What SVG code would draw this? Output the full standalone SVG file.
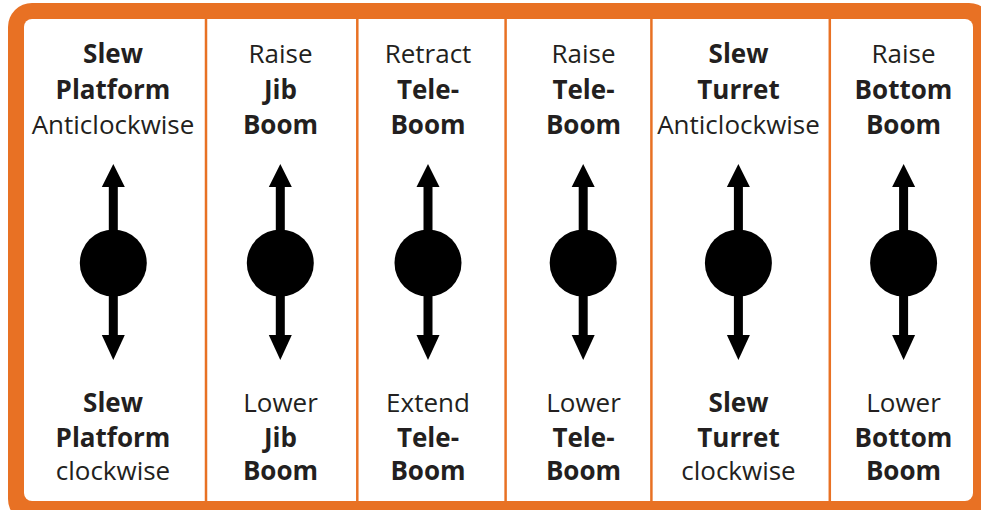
<svg xmlns="http://www.w3.org/2000/svg" width="981" height="510" viewBox="0 0 981 510">
<defs>
<style>
.t{font-family:"Open Sans","Noto Sans","Liberation Sans",sans-serif;font-size:26px;fill:#231f20;text-anchor:middle}
.b{font-weight:bold}
.div{stroke:#e87124;stroke-width:2.5}
</style>
<g id="arrow">
<rect x="-4.5" y="185" width="9" height="152" fill="#000"/>
<polygon points="0,164 -11.5,187 11.5,187" fill="#000"/>
<polygon points="0,360 -11.5,335 11.5,335" fill="#000"/>
<circle cx="0" cy="263" r="33.5" fill="#000"/>
</g>
</defs>
<rect width="981" height="510" fill="#fff"/>
<rect x="8" y="3" width="985" height="520" rx="24" fill="#e87124"/>
<rect x="24" y="19" width="949" height="482" rx="8" fill="#fff"/>
<g id="dividers">
<line class="div" x1="206" y1="19" x2="206" y2="501"/>
<line class="div" x1="357.3" y1="19" x2="357.3" y2="501"/>
<line class="div" x1="505.6" y1="19" x2="505.6" y2="501"/>
<line class="div" x1="651.4" y1="19" x2="651.4" y2="501"/>
<line class="div" x1="829.8" y1="19" x2="829.8" y2="501"/>
</g>
<g id="col1">
<text class="t b" x="113" y="63">Slew</text>
<text class="t b" x="113" y="99">Platform</text>
<text class="t" x="113" y="134">Anticlockwise</text>
<use href="#arrow" x="113.3"/>
<text class="t b" x="113" y="412">Slew</text>
<text class="t b" x="113" y="447">Platform</text>
<text class="t" x="113" y="480">clockwise</text>
</g>
<g id="col2">
<text class="t" x="280.5" y="63">Raise</text>
<text class="t b" x="280.5" y="99">Jib</text>
<text class="t b" x="280.5" y="134">Boom</text>
<use href="#arrow" x="280.3"/>
<text class="t" x="280.5" y="412">Lower</text>
<text class="t b" x="280.5" y="447">Jib</text>
<text class="t b" x="280.5" y="480">Boom</text>
</g>
<g id="col3">
<text class="t" x="428" y="63">Retract</text>
<text class="t b" x="428" y="99">Tele-</text>
<text class="t b" x="428" y="134">Boom</text>
<use href="#arrow" x="428"/>
<text class="t" x="428" y="412">Extend</text>
<text class="t b" x="428" y="447">Tele-</text>
<text class="t b" x="428" y="480">Boom</text>
</g>
<g id="col4">
<text class="t" x="583.5" y="63">Raise</text>
<text class="t b" x="583.5" y="99">Tele-</text>
<text class="t b" x="583.5" y="134">Boom</text>
<use href="#arrow" x="583.2"/>
<text class="t" x="583.5" y="412">Lower</text>
<text class="t b" x="583.5" y="447">Tele-</text>
<text class="t b" x="583.5" y="480">Boom</text>
</g>
<g id="col5">
<text class="t b" x="738.5" y="63">Slew</text>
<text class="t b" x="738.5" y="99">Turret</text>
<text class="t" x="738.5" y="134">Anticlockwise</text>
<use href="#arrow" x="738.4"/>
<text class="t b" x="738.5" y="412">Slew</text>
<text class="t b" x="738.5" y="447">Turret</text>
<text class="t" x="738.5" y="480">clockwise</text>
</g>
<g id="col6">
<text class="t" x="903.5" y="63">Raise</text>
<text class="t b" x="903.5" y="99">Bottom</text>
<text class="t b" x="903.5" y="134">Boom</text>
<use href="#arrow" x="903.6"/>
<text class="t" x="903.5" y="412">Lower</text>
<text class="t b" x="903.5" y="447">Bottom</text>
<text class="t b" x="903.5" y="480">Boom</text>
</g>
</svg>
